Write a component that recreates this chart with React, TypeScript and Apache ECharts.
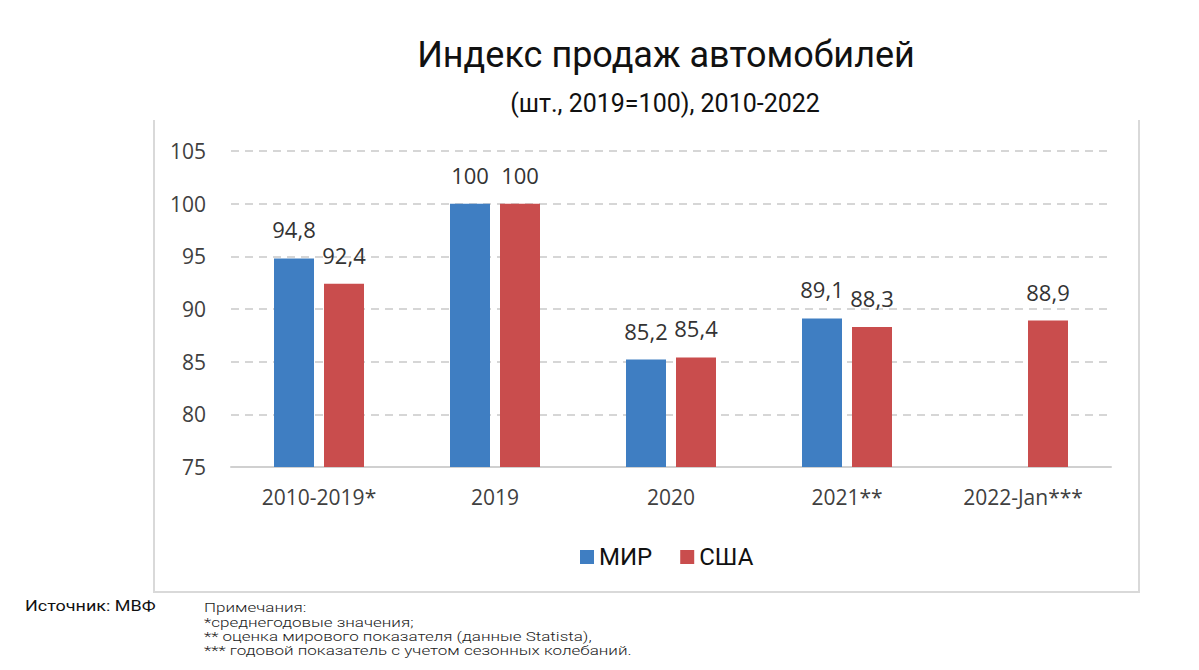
import React, { useEffect, useRef } from "react";
import * as echarts from "echarts";

const categories = ["2010-2019*", "2019", "2020", "2021**", "2022-Jan***"];
const worldValues: (number | null)[] = [94.8, 100, 85.2, 89.1, null];
const usaValues: (number | null)[] = [92.4, 100, 85.4, 88.3, 88.9];
const yTicks = { min: 75, max: 105, interval: 5 };
const titleText = "Индекс продаж автомобилей";
const subtitleText = "(шт., 2019=100), 2010-2022";
const sourceText = "Источник: МВФ";
const notesLines = [
  "Примечания:",
  "*среднегодовые значения;",
  "** оценка мирового показателя (данные Statista),",
  "*** годовой показатель с учетом сезонных колебаний.",
];

const fmt = (v: any) => {
  const n = typeof v === "number" ? v : Number(v);
  return Number.isInteger(n) ? String(n) : String(n).replace(".", ",");
};

export default function App() {
  const ref = useRef<HTMLDivElement>(null);
  useEffect(() => {
    document.body.style.margin = "0";
    const chart = echarts.init(ref.current!, undefined, { renderer: "svg" });
    const labelFont = "'Open Sans', 'DejaVu Sans', sans-serif";
    const notesGraphics = notesLines.map((line, i) => ({
      type: "text",
      x: 204,
      y: 601 + i * 14.3,
      scaleX: 1.26,
      style: { text: line, font: "300 13.5px Roboto", fill: "#222" },
    }));
    chart.setOption({
      animation: false,
      backgroundColor: "#ffffff",
      legend: {
        data: ["МИР", "США"],
        left: 575,
        top: 540,
        itemWidth: 14,
        itemHeight: 14,
        itemGap: 28,
        icon: "rect",
        textStyle: { fontFamily: "Roboto", fontSize: 24, color: "#111", padding: [0, 0, 0, 0] },
      },
      grid: { left: 231, right: 88, top: 151, bottom: 203, containLabel: false },
      xAxis: {
        type: "category",
        data: categories,
        axisLine: { lineStyle: { color: "#d0d0d0", width: 2 } },
        axisTick: { show: false },
        axisLabel: { fontFamily: labelFont, fontSize: 21, color: "#404040", margin: 19 },
      },
      yAxis: {
        type: "value",
        min: yTicks.min,
        max: yTicks.max,
        interval: yTicks.interval,
        axisLine: { show: false },
        axisTick: { show: false },
        axisLabel: { fontFamily: labelFont, fontSize: 21, color: "#404040", margin: 25 },
        splitLine: { lineStyle: { color: "#d6d6d6", type: [8, 6], width: 2 } },
      },
      series: [
        {
          name: "МИР",
          type: "bar",
          data: worldValues,
          barWidth: 40,
          barGap: "25%",
          itemStyle: { color: "#3F7EC2" },
          label: {
            show: true,
            position: "top",
            distance: 18,
            formatter: (p: any) => fmt(p.value),
            fontFamily: labelFont,
            fontSize: 22,
            color: "#333",
          },
        },
        {
          name: "США",
          type: "bar",
          data: usaValues,
          barWidth: 40,
          itemStyle: { color: "#C94D4D" },
          label: {
            show: true,
            position: "top",
            distance: 18,
            formatter: (p: any) => fmt(p.value),
            fontFamily: labelFont,
            fontSize: 22,
            color: "#333",
          },
        },
      ],
      graphic: [
        {
          type: "polyline",
          shape: { points: [[154, 120], [154, 592], [1139, 592], [1139, 120]] },
          style: { stroke: "#d9d9d9", lineWidth: 2, fill: "none" },
          silent: true,
        },
        {
          type: "text",
          x: 666,
          y: 55,
          style: {
            text: titleText,
            font: "36px Roboto",
            fill: "#111",
            textAlign: "center",
            textVerticalAlign: "middle",
          },
        },
        {
          type: "text",
          x: 665,
          y: 103,
          style: {
            text: subtitleText,
            font: "25px Roboto",
            fill: "#111",
            textAlign: "center",
            textVerticalAlign: "middle",
          },
        },
        {
          type: "text",
          x: 25,
          y: 599,
          scaleX: 1.2,
          style: { text: sourceText, font: "15px Roboto", fill: "#111" },
        },
        ...notesGraphics,
      ],
    });
    return () => chart.dispose();
  }, []);
  return <div ref={ref} style={{ width: 1199, height: 670 }} />;
}
